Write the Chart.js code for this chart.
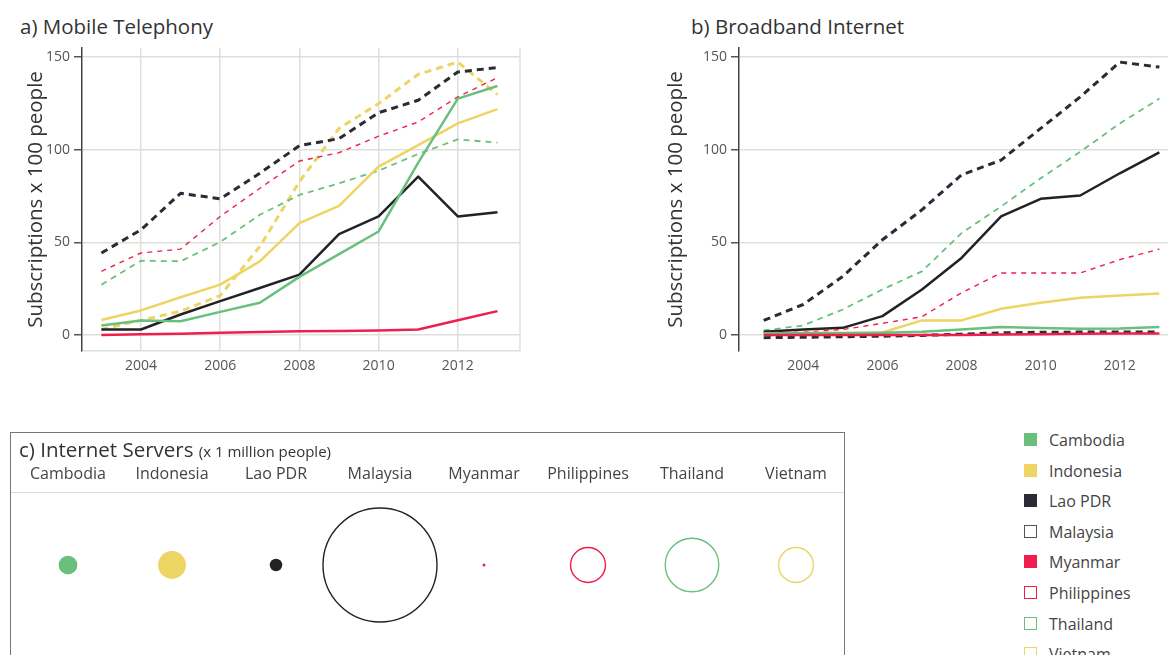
<!DOCTYPE html>
<html>
<head>
<meta charset="utf-8">
<script src="https://cdn.jsdelivr.net/npm/chart.js@4"></script>
<style>
  html, body { margin: 0; padding: 0; background: #fff; }
  body { width: 1168px; height: 655px; overflow: hidden; position: relative;
         font-family: "Open Sans", Lato, sans-serif; color: #333; }
  .abs { position: absolute; }
  .ptitle { font-size: 20.5px; line-height: 28px; white-space: nowrap; color: #333; }
  #boxC { left: 10px; top: 432px; width: 833px; height: 300px; border: 1px solid #777; overflow: hidden; }
  #boxC .sub { font-size: 15px; }
  #sep { left: 0; top: 59px; width: 100%; height: 0; border-top: 1.5px solid #dcdcd8; }
  #legend { left: 1024px; top: 429px; }
  .item { position: relative; height: 30.6px; line-height: 22px; font-size: 16px; color: #444; white-space: nowrap; }
  .sw { position: absolute; left: 0; top: 4px; width: 13px; height: 13px; box-sizing: border-box; }
  .item span.t { position: absolute; left: 25px; top: 0; }
</style>
</head>
<body>

<div class="abs ptitle" style="left:20px; top:12px;">a) Mobile Telephony</div>
<canvas id="mobile" class="abs" width="540" height="390" style="left:0; top:0;"></canvas>

<div class="abs ptitle" style="left:691px; top:12px;">b) Broadband Internet</div>
<canvas id="broadband" class="abs" width="540" height="390" style="left:640px; top:0;"></canvas>

<div id="boxC" class="abs">
  <canvas id="servers" class="abs" width="845" height="222" style="left:0; top:0;"></canvas>
  <div id="sep" class="abs"></div>
  <div class="abs ptitle" style="left:8px; top:2px;">c) Internet Servers <span class="sub">(x 1 million people)</span></div>
</div>

<div id="legend" class="abs"></div>

<script>
// ---- Categories and ticks ----
const years = [2003, 2004, 2005, 2006, 2007, 2008, 2009, 2010, 2011, 2012, 2013];
const yearTicks = [2004, 2006, 2008, 2010, 2012];
const valueTicks = [0, 50, 100, 150];
const countries = ['Cambodia', 'Indonesia', 'Lao PDR', 'Malaysia', 'Myanmar', 'Philippines', 'Thailand', 'Vietnam'];

// ---- a) Mobile subscriptions per 100 people ----
const mobileCambodia    = [5.2, 7.9, 7.5, 12.5, 17.4, 31.4, 43.7, 55.9, 93.0, 127.6, 134.4];
const mobileIndonesia   = [8.1, 13.3, 20.4, 27.2, 39.8, 60.4, 69.7, 90.9, 102.5, 114.2, 121.9];
const mobileLao         = [3.0, 3.0, 11.1, 18.3, 25.4, 32.6, 54.5, 64.0, 85.5, 64.0, 66.3];
const mobileMalaysia    = [44.3, 56.8, 76.5, 73.5, 87.3, 102.2, 106.0, 120.0, 126.7, 142.0, 144.3];
const mobileMyanmar     = [0.0, 0.4, 0.7, 1.3, 1.6, 2.0, 2.2, 2.5, 3.0, 8.0, 12.9];
const mobilePhilippines = [34.4, 44.3, 46.4, 64.0, 79.2, 93.9, 98.4, 107.3, 115.0, 128.5, 138.9];
const mobileThailand    = [27.2, 40.1, 39.8, 50.2, 64.9, 75.6, 81.9, 88.7, 97.7, 105.6, 103.8];
const mobileVietnam     = [3.0, 7.9, 12.9, 21.3, 47.8, 82.8, 111.5, 124.9, 140.7, 147.3, 129.7];

// ---- b) Broadband subscriptions per 100 people ----
const bbCambodia    = [1.0, 1.0, 1.0, 1.2, 1.8, 3.0, 4.4, 3.8, 3.4, 3.6, 4.4];
const bbIndonesia   = [0.0, 1.3, 1.3, 1.4, 7.9, 7.9, 14.2, 17.4, 20.1, 21.3, 22.4];
const bbLao         = [1.8, 3.0, 3.9, 10.2, 24.6, 41.6, 64.0, 73.5, 75.3, 87.3, 98.6];
const bbMalaysia    = [7.9, 16.5, 31.7, 51.4, 67.6, 86.4, 94.4, 111.5, 128.5, 147.3, 144.6];
const bbMyanmar     = [0.0, 0.0, 0.0, 0.0, 0.0, 0.1, 0.3, 0.5, 0.7, 0.8, 0.9];
const bbPhilippines = [1.3, 1.6, 3.0, 6.3, 9.9, 22.8, 33.5, 33.5, 33.5, 40.7, 46.4];
const bbThailand    = [2.5, 5.2, 13.8, 24.6, 34.4, 55.0, 69.4, 84.6, 98.9, 114.2, 127.6];
const bbLowDashed   = [-1.4, -1.2, -0.9, -0.6, -0.2, 0.5, 1.2, 1.5, 1.6, 1.6, 1.6];

// ---- c) Internet servers per 1 million people ----
const servers = [2.7, 6.0, 1.2, 100, 0.07, 9.4, 22.1, 9.4];

// ---- Styling ----
const GREEN = '#69c07c', YELLOW = '#eed462', DARK = '#222226', NAVY = '#2a2b36', RED = '#ee1e4e';
const GRID = '#dfdfda';
const FONT = '"Open Sans", Lato, sans-serif';

const styles = {
  'Cambodia':    { color: GREEN,  width: 2.5, dash: [] },
  'Indonesia':   { color: YELLOW, width: 2.5, dash: [] },
  'Lao PDR':     { color: DARK,   width: 2.5, dash: [] },
  'Malaysia':    { color: NAVY,   width: 3,   dash: [7, 5] },
  'Myanmar':     { color: RED,    width: 2.5, dash: [] },
  'Philippines': { color: RED,    width: 1.4, dash: [5, 5] },
  'Thailand':    { color: GREEN,  width: 1.8, dash: [6, 5] },
  'Vietnam':     { color: YELLOW, width: 3,   dash: [7, 5] }
};

// Thin light frame line on the right edge of the plot
const rightFrame = {
  id: 'rightFrame',
  beforeDatasetsDraw(chart) {
    const a = chart.chartArea, ctx = chart.ctx;
    ctx.save();
    ctx.strokeStyle = GRID; ctx.lineWidth = 1.5;
    ctx.beginPath(); ctx.moveTo(a.right, a.top); ctx.lineTo(a.right, a.bottom); ctx.stroke();
    ctx.restore();
  }
};

function lineChart(id, series, o) {
  return new Chart(document.getElementById(id), {
    type: 'line',
    data: {
      datasets: series.map(s => {
        const st = s.style;
        return {
          label: s.name,
          data: years.map((yr, i) => ({ x: yr, y: s.values[i] })),
          borderColor: st.color, borderWidth: st.width, borderDash: st.dash,
          pointRadius: 0, fill: false, tension: 0, clip: false,
          borderCapStyle: 'butt', borderJoinStyle: 'round'
        };
      })
    },
    options: {
      responsive: false, animation: false, events: [],
      layout: { autoPadding: false, padding: { left: 0, right: o.padRight, top: 48, bottom: 0 } },
      plugins: { legend: { display: false }, tooltip: { enabled: false } },
      scales: {
        x: {
          type: 'linear', min: o.xMin, max: o.xMax,
          afterBuildTicks: s => { s.ticks = yearTicks.map(v => ({ value: v })); },
          afterFit: s => { s.height = 39; },
          ticks: { callback: v => String(v), color: '#555', font: { family: FONT, size: 14 }, padding: 7, maxRotation: 0 },
          grid: { display: o.xGrid, color: GRID, lineWidth: 1.5, drawTicks: false },
          border: { display: o.xGrid, color: GRID, width: 1.5 }
        },
        y: {
          min: -8.6, max: 154.9,
          afterBuildTicks: s => { s.ticks = valueTicks.map(v => ({ value: v })); },
          afterFit: s => { s.width = o.axisWidth; },
          ticks: { color: '#555', font: { family: FONT, size: 14 }, padding: 4 },
          grid: { color: GRID, lineWidth: 1.5, tickLength: 8, tickColor: '#555', tickWidth: 1.5 },
          border: { color: '#444', width: 1.5 },
          title: { display: true, text: 'Subscriptions x 100 people', color: '#333',
                   font: { family: FONT, size: 20.5 }, padding: { top: 24, bottom: 0 } }
        }
      }
    },
    plugins: o.plugins || []
  });
}

// a) Mobile telephony
lineChart('mobile', [
  { name: 'Vietnam',     values: mobileVietnam,     style: styles['Vietnam'] },
  { name: 'Malaysia',    values: mobileMalaysia,    style: styles['Malaysia'] },
  { name: 'Philippines', values: mobilePhilippines, style: styles['Philippines'] },
  { name: 'Thailand',    values: mobileThailand,    style: styles['Thailand'] },
  { name: 'Indonesia',   values: mobileIndonesia,   style: styles['Indonesia'] },
  { name: 'Lao PDR',     values: mobileLao,         style: styles['Lao PDR'] },
  { name: 'Cambodia',    values: mobileCambodia,    style: styles['Cambodia'] },
  { name: 'Myanmar',     values: mobileMyanmar,     style: styles['Myanmar'] }
].reverse(), { xMin: 2002.51, xMax: 2013.57, padRight: 20, axisWidth: 82, xGrid: true, plugins: [rightFrame] });

// b) Broadband internet
lineChart('broadband', [
  { name: 'Malaysia',    values: bbMalaysia,    style: styles['Malaysia'] },
  { name: 'Thailand',    values: bbThailand,    style: styles['Thailand'] },
  { name: 'Lao PDR',     values: bbLao,         style: styles['Lao PDR'] },
  { name: 'Philippines', values: bbPhilippines, style: styles['Philippines'] },
  { name: 'Indonesia',   values: bbIndonesia,   style: styles['Indonesia'] },
  { name: 'Cambodia',    values: bbCambodia,    style: styles['Cambodia'] },
  { name: 'Low',         values: bbLowDashed,   style: { color: NAVY, width: 3, dash: [7, 5] } },
  { name: 'Myanmar',     values: bbMyanmar,     style: styles['Myanmar'] }
].reverse(), { xMin: 2002.376, xMax: 2013.42, padRight: 4, axisWidth: 99, xGrid: false });

// c) Internet servers: circle area proportional to the value
const filled = ['Cambodia', 'Indonesia', 'Lao PDR', 'Myanmar'];
const serverRadius = v => 5.7 * Math.sqrt(v);
new Chart(document.getElementById('servers'), {
  type: 'bubble',
  data: {
    labels: countries,
    datasets: [{
      data: countries.map((c, i) => ({ x: c, y: 0, r: serverRadius(servers[i]) })),
      backgroundColor: countries.map(c => filled.includes(c) ? styles[c].color : 'rgba(255,255,255,0)'),
      borderColor: countries.map(c => c === 'Malaysia' ? DARK : styles[c].color),
      borderWidth: countries.map(c => filled.includes(c) ? 0 : 1.4),
      clip: false
    }]
  },
  options: {
    responsive: false, animation: false, events: [],
    layout: { autoPadding: false, padding: { left: 5, right: 8, top: 0, bottom: 17 } },
    plugins: { legend: { display: false }, tooltip: { enabled: false } },
    scales: {
      x: {
        type: 'category', position: 'top', offset: true,
        afterFit: s => { s.height = 59; },
        ticks: { color: '#444', font: { family: FONT, size: 16 }, padding: 8, maxRotation: 0, autoSkip: false },
        grid: { display: false, drawTicks: false },
        border: { display: false }
      },
      y: { display: false, min: -1, max: 1 }
    }
  }
});

// Legend
const legend = document.getElementById('legend');
countries.forEach(c => {
  const st = styles[c];
  const isFilled = filled.includes(c);
  const row = document.createElement('div');
  row.className = 'item';
  const sw = document.createElement('div');
  sw.className = 'sw';
  const col = c === 'Malaysia' ? '#555' : st.color;
  if (isFilled) { sw.style.background = c === 'Lao PDR' ? NAVY : st.color; }
  else { sw.style.border = '1.5px solid ' + col; }
  const t = document.createElement('span');
  t.className = 't';
  t.textContent = c;
  row.appendChild(sw); row.appendChild(t);
  legend.appendChild(row);
});
</script>
</body>
</html>
